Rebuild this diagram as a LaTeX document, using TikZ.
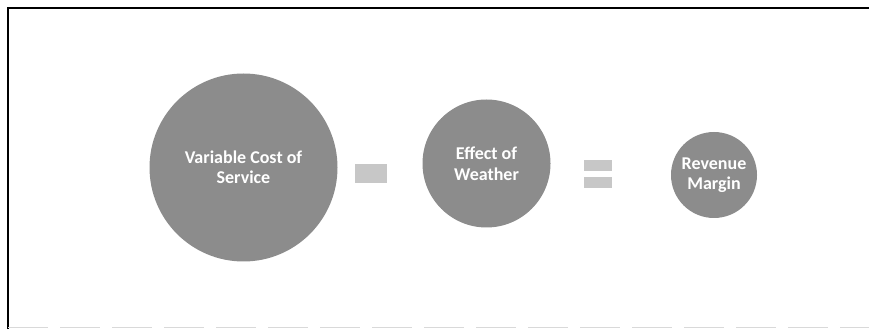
\documentclass[tikz,border=0pt]{standalone}
\usepackage{fontspec}
\setmainfont{Carlito}
\usepackage{tikz}

\begin{document}
\begin{tikzpicture} [x=1pt,y=1pt,
  ball/.style={circle,fill=black!45,inner sep=0pt,align=center,text=white,
    font=\bfseries\fontsize{18}{20.5}\selectfont},
  bar/.style={rectangle,fill=black!22,inner sep=0pt,minimum width=28pt,minimum height=11pt}]
\useasboundingbox (0,0) rectangle (869,329);
\draw [line width=1.6pt] (8,0) -- (8,321) -- (869,321);
\draw [black!15,dash pattern=on 40pt off 12pt] (8,2) -- (869,2);
\node [ball,minimum size=188pt] (cost) at (243.5,161.5) {Variable Cost of\\Service};
\node [ball,minimum size=128pt] (weather) at (486.5,165.5) {Effect of\\Weather};
\node [ball,minimum size=86pt] (margin) at (714,154) {Revenue\\Margin};
\node [bar,minimum width=32pt,minimum height=19pt] (minus) at (371,155.5) {};
\node [bar] (eqtop) at (598,163.5) {};
\node [bar] (eqbot) at (598,146.5) {};
\end{tikzpicture}
\end{document}
